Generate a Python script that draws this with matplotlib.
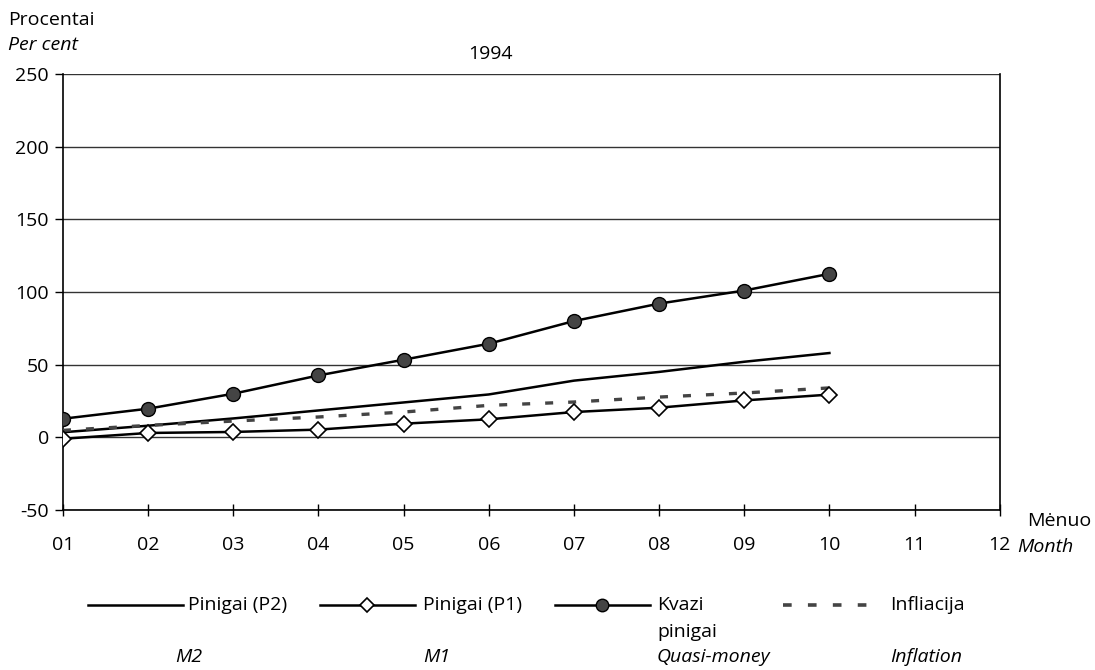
import matplotlib
matplotlib.use("Agg")
import matplotlib.pyplot as plt
from matplotlib.lines import Line2D

plt.rcParams['font.family'] = ['Open Sans', 'DejaVu Sans']
plt.rcParams['axes.unicode_minus'] = False

months = [1, 2, 3, 4, 5, 6, 7, 8, 9, 10]
month_labels = ['01', '02', '03', '04', '05', '06', '07', '08', '09', '10', '11', '12']

m2 = [3.5, 8, 13, 18.5, 24, 29.5, 39, 45, 52, 58]
m1 = [-1, 3, 3.7, 5.3, 9.4, 12.4, 17.4, 20.4, 25.4, 29.4]
quasi = [12.8, 19.7, 30, 42.6, 53.4, 64.4, 80, 92, 101, 112.5]
inflation = [4.8, 8.2, 11.2, 14, 17.4, 22, 24.3, 27.7, 30.5, 34]

yticks = [-50, 0, 50, 100, 150, 200, 250]

FS = 14

fig = plt.figure(figsize=(10.95, 6.7), dpi=100)
ax = fig.add_axes([0.0575, 0.2388, 0.8555, 0.6508])

for y in yticks:
    ax.axhline(y, color='#333333', lw=1.0, zorder=1)

ax.plot(months, m2, color='black', lw=1.8, zorder=3)
ax.plot(months, inflation, color='#444444', lw=2.4, dashes=(2.4, 4.5), zorder=3)
ax.plot(months, m1, color='black', lw=1.8, marker='D', markersize=8.5,
        markerfacecolor='white', markeredgecolor='black', markeredgewidth=1.2, zorder=4)
ax.plot(months, quasi, color='black', lw=1.8, marker='o', markersize=10,
        markerfacecolor='#444444', markeredgecolor='black', markeredgewidth=1.0, zorder=4)

ax.set_xlim(1, 12)
ax.set_ylim(-50, 250)
ax.set_xticks(range(1, 13))
ax.set_xticklabels(month_labels)
ax.set_yticks(yticks)
ax.tick_params(axis='x', direction='inout', length=8, width=1, pad=15, labelsize=FS)
ax.tick_params(axis='y', direction='out', length=6, width=1, pad=4, labelsize=FS)
for s in ax.spines.values():
    s.set_linewidth(1.2)
ax.spines['top'].set_visible(False)

fig.text(0.007, 0.970, 'Procentai', fontsize=FS, va='center')
fig.text(0.007, 0.933, 'Per cent', fontsize=FS, va='center', style='italic')
fig.text(0.448, 0.920, '1994', fontsize=FS, va='center', ha='center')
fig.text(0.938, 0.222, 'Mėnuo', fontsize=FS, va='center')
fig.text(0.929, 0.184, 'Month', fontsize=FS, va='center', style='italic')

# legend drawn by hand in figure coordinates
ly = 0.097
W = 1095.0
fig.add_artist(Line2D([88 / W, 183 / W], [ly, ly], color='black', lw=1.8))
fig.add_artist(Line2D([320 / W, 415 / W], [ly, ly], color='black', lw=1.8))
fig.add_artist(Line2D([367 / W], [ly], marker='D', markersize=7, markerfacecolor='white',
                      markeredgecolor='black', markeredgewidth=1.2, lw=0))
fig.add_artist(Line2D([555 / W, 650 / W], [ly, ly], color='black', lw=1.8))
fig.add_artist(Line2D([602 / W], [ly], marker='o', markersize=9, markerfacecolor='#444444',
                      markeredgecolor='black', lw=0))
fig.add_artist(Line2D([783 / W, 870 / W], [ly, ly], color='#444444', lw=2.6, dashes=(2.4, 4.5)))

labels = ['Pinigai (P2)', 'Pinigai (P1)', 'Kvazi', 'Infliacija']
en_labels = ['M2', 'M1', 'Quasi-money', 'Inflation']
text_x = [188 / W, 423 / W, 657 / W, 890 / W]
en_x = [175 / W, 423 / W, 657 / W, 890 / W]
for tx, lab in zip(text_x, labels):
    fig.text(tx, ly, lab, fontsize=FS, va='center')
fig.text(657 / W, 0.057, 'pinigai', fontsize=FS, va='center')
for ex, en in zip(en_x, en_labels):
    fig.text(ex, 0.020, en, fontsize=FS, style='italic', va='center')

fig.savefig('out.png', dpi=100)
